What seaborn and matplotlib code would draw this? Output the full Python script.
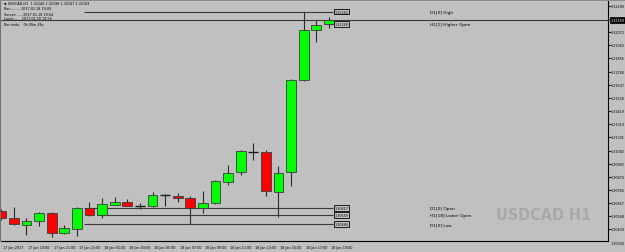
import matplotlib
matplotlib.use("Agg")
import matplotlib.pyplot as plt
import matplotlib.transforms as mtransforms
from matplotlib import font_manager as fm
from matplotlib.patches import Rectangle
import numpy as np
import pandas as pd
import seaborn as sns

# ---------------- data ----------------
bar_times = ["17 Jan 17:00", "17 Jan 18:00", "17 Jan 19:00", "17 Jan 20:00", "17 Jan 21:00",
             "17 Jan 22:00", "17 Jan 23:00", "18 Jan 00:00", "18 Jan 01:00", "18 Jan 02:00",
             "18 Jan 03:00", "18 Jan 04:00", "18 Jan 05:00", "18 Jan 06:00", "18 Jan 07:00",
             "18 Jan 08:00", "18 Jan 09:00", "18 Jan 10:00", "18 Jan 11:00", "18 Jan 12:00",
             "18 Jan 13:00", "18 Jan 14:00", "18 Jan 15:00", "18 Jan 16:00", "18 Jan 17:00",
             "18 Jan 18:00", "18 Jan 19:00"]
opens = [1.30592, 1.30534, 1.30476, 1.30509, 1.30575, 1.30410, 1.30443, 1.30617, 1.30559,
         1.30641, 1.30666, 1.30633, 1.30633, 1.30724, 1.30716, 1.30699, 1.30617, 1.30658,
         1.30832, 1.30915, 1.31080, 1.31080, 1.30749, 1.30915, 1.31676, 1.32090, 1.32140]
highs = [1.30608, 1.30625, 1.30534, 1.30583, 1.30583, 1.30476, 1.30625, 1.30666, 1.30699,
         1.30708, 1.30691, 1.30658, 1.30749, 1.30732, 1.30740, 1.30716, 1.30757, 1.30848,
         1.30973, 1.31097, 1.31155, 1.31097, 1.30964, 1.31685, 1.32242, 1.32173, 1.32198]
lows = [1.30517, 1.30476, 1.30393, 1.30467, 1.30376, 1.30401, 1.30385, 1.30550, 1.30534,
        1.30637, 1.30629, 1.30608, 1.30625, 1.30633, 1.30666, 1.30484, 1.30575, 1.30650,
        1.30807, 1.30890, 1.31014, 1.30716, 1.30542, 1.30799, 1.31668, 1.31991, 1.32107]
closes = [1.30534, 1.30484, 1.30509, 1.30575, 1.30410, 1.30451, 1.30617, 1.30559, 1.30650,
          1.30666, 1.30633, 1.30633, 1.30724, 1.30724, 1.30699, 1.30617, 1.30658, 1.30840,
          1.30906, 1.31088, 1.31080, 1.30757, 1.30906, 1.31676, 1.32090, 1.32132, 1.32169]

x_tick_bars = [0, 2, 4, 6, 8, 10, 12, 14, 16, 18, 20, 22, 24, 26]
x_tick_labels = ["17 Jan 2017", "17 Jan 19:00", "17 Jan 21:00", "17 Jan 23:00",
                 "18 Jan 01:00", "18 Jan 03:00", "18 Jan 05:00", "18 Jan 07:00",
                 "18 Jan 09:00", "18 Jan 11:00", "18 Jan 13:00", "18 Jan 15:00",
                 "18 Jan 17:00", "18 Jan 19:00"]
price_ticks = [1.32290, 1.32181, 1.32072, 1.31963, 1.31855, 1.31746, 1.31637, 1.31528,
               1.31419, 1.31310, 1.31201, 1.31092, 1.30983, 1.30874, 1.30766, 1.30657,
               1.30548, 1.30439, 1.30330]

level_names = ["D1[0] High", "H1[1] Higher Open", "D1[0] Open", "H1[18] Lower Open", "D1[0] Low"]
level_prices = [1.32242, 1.32140, 1.30617, 1.30559, 1.30484]
level_start_bars = [7, 26, 7, 8, 7]
bid_price = 1.32169

header_lines = ["\u25BC USDCAD,H1  1.32140 1.32198 1.32107 1.32169",
                "Bar:........ 2017.01.18 19:00",
                "Server:..... 2017.01.18 19:54",
                "Local:...... 2017.01.18 19:54",
                "Bar ends:   0h 05m 46s"]
watermark = "USDCAD H1"

# ---------------- style ----------------
BG = "#c0c0c0"
sns.set_style("white", {"axes.facecolor": BG, "figure.facecolor": BG})
plt.rcParams["font.family"] = ["DejaVu Sans"]

SMALL = 2.4

W, H = 625, 253
fig = plt.figure(figsize=(W / 100, H / 100), dpi=100)
fig.patch.set_facecolor(BG)

# axes in pixel geometry: x 1..608, y 2..242 (from top)
ax_l, ax_r, ax_t, ax_b = 1, 608, 2, 242
ax = fig.add_axes([ax_l / W, (H - ax_b) / H, (ax_r - ax_l) / W, (ax_b - ax_t) / H])
ax.set_facecolor(BG)

px_per_bar = 12.6
x0_px = 1.3
ax.set_xlim((ax_l - x0_px) / px_per_bar, (ax_r - x0_px) / px_per_bar)
ax.set_ylim(1.30343, 1.32330)

df = pd.DataFrame({"time": bar_times, "open": opens, "high": highs,
                   "low": lows, "close": closes})
df["i"] = np.arange(len(df))
df["bull"] = df["close"] >= df["open"]
df["bottom"] = df[["open", "close"]].min(axis=1)
df["height"] = (df["close"] - df["open"]).abs()

# level lines (under candles)
for name, p, s in zip(level_names, level_prices, level_start_bars):
    ax.hlines(p, s - 0.4, 26.33, color="#3a3a3a", lw=0.8, zorder=1)

# bid line
ax.axhline(bid_price, color="#3a3a3a", lw=0.8, zorder=1)

# wicks
ax.vlines(df["i"], df["low"], df["high"], color="#2a2a2a", lw=0.8, zorder=2)

# bodies
body_w = 0.78
real = df[df["height"] > 0]
ax.bar(real["i"], real["height"], bottom=real["bottom"], width=body_w,
       color=np.where(real["bull"], "#00ff00", "#ff0000"),
       edgecolor="#3c3c3c", linewidth=0.6, zorder=3)
doji = df[df["height"] == 0]
ax.hlines(doji["open"], doji["i"] - body_w / 2, doji["i"] + body_w / 2,
          color="#1a1a1a", lw=1.0, zorder=3)

# price boxes and level names
for name, p in zip(level_names, level_prices):
    ax.text(26.45, p, f"{p:.5f}", fontsize=SMALL, color="#000000", va="center", ha="left",
            zorder=5, bbox=dict(boxstyle="square,pad=0.25", fc=BG, ec="#000000", lw=0.6))
    ax.text(34.0, p, name, fontsize=3.1, color="#000000", va="center", ha="left", zorder=5)

# spines
for s in ["top", "left"]:
    ax.spines[s].set_visible(False)
ax.spines["right"].set_color("#000000")
ax.spines["bottom"].set_color("#000000")
ax.spines["right"].set_linewidth(0.8)
ax.spines["bottom"].set_linewidth(0.8)

# x ticks
ax.set_xticks(x_tick_bars, x_tick_labels)
ax.tick_params(axis="x", direction="out", length=5, width=0.6, color="#000000",
               pad=-2.2, labelsize=SMALL, labelcolor="#000000")
offset = mtransforms.ScaledTranslation(2 / 100, 0, fig.dpi_scale_trans)
for lab in ax.get_xticklabels():
    lab.set_horizontalalignment("left")
    lab.set_transform(lab.get_transform() + offset)

# y ticks on the right (labels as text to allow the last one below the frame)
ax.yaxis.tick_right()
ylo, yhi = ax.get_ylim()
ax.set_yticks([p for p in price_ticks if ylo <= p <= yhi])
ax.set_yticklabels([])
ax.tick_params(axis="y", direction="out", length=2, width=0.6, color="#000000")
ax.set_ylim(ylo, yhi)
blend = mtransforms.blended_transform_factory(ax.transAxes, ax.transData)
for p in price_ticks:
    ax.text(1 + 3 / (ax_r - ax_l), p, f"{p:.5f}", transform=blend, fontsize=SMALL,
            color="#000000", va="center", ha="left", clip_on=False)

# bid box on price scale
ax.text(1 + 2.5 / (ax_r - ax_l), bid_price, f"{bid_price:.5f}", transform=blend,
        fontsize=SMALL, color="#ffffff", va="center", ha="left", clip_on=False, zorder=10,
        bbox=dict(boxstyle="square,pad=0.3", fc="#000000", ec="#000000", lw=0.5))

# header
for k, line in enumerate(header_lines):
    y_px = [4, 9.5, 14.5, 19, 24.5][k]
    fig.text(4 / W, 1 - y_px / H, line, fontsize=SMALL, color="#000000", va="center", ha="left")

# watermark (narrow bold face if available)
try:
    fm.findfont(fm.FontProperties(family="Liberation Sans Narrow", weight="bold"),
                fallback_to_default=False)
    wm_family, wm_size, wm_stretch = "Liberation Sans Narrow", 14, "normal"
except Exception:
    wm_family, wm_size, wm_stretch = "DejaVu Sans", 11.5, "condensed"
fig.text(544 / W, 1 - 216 / H, watermark, fontsize=wm_size, fontweight="bold",
         family=[wm_family, "DejaVu Sans"], fontstretch=wm_stretch,
         color="#a8a8a8", ha="center", va="center", zorder=0)

# top frame strip and left edge
fig.patches.append(Rectangle((0, 1 - 2 / H), 1, 2 / H, transform=fig.transFigure,
                             fc="#8c8c8c", ec="none"))
fig.patches.append(Rectangle((0, (H - ax_b) / H), 1 / W, (ax_b - ax_t) / H,
                             transform=fig.transFigure, fc="#707070", ec="none"))

fig.savefig("out.png", dpi=100, facecolor=BG)
